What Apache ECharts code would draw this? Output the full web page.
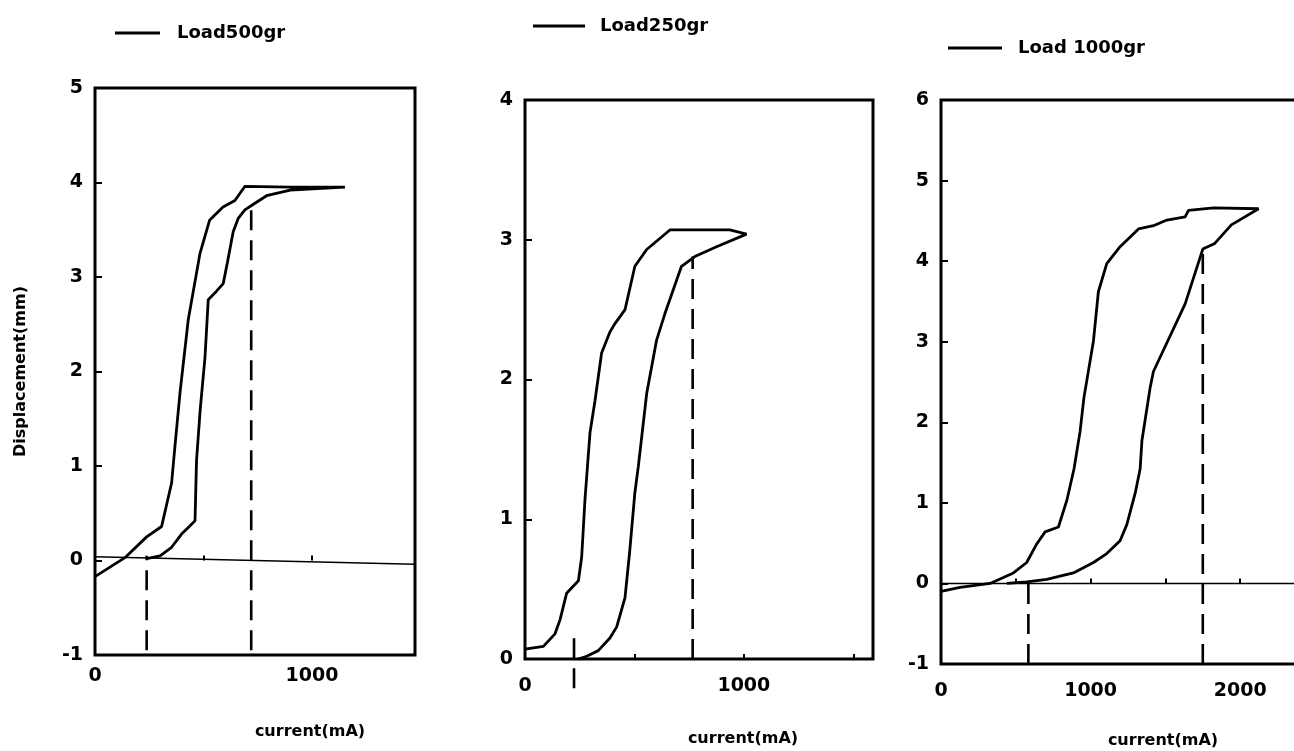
<!DOCTYPE html>
<html>
<head>
<meta charset="utf-8">
<script src="https://cdn.jsdelivr.net/npm/echarts/dist/echarts.min.js"></script>
<style>
  html, body { margin: 0; padding: 0; background: #fff; }
  #chart { width: 1294px; height: 751px; }
</style>
</head>
<body>
<div id="chart"></div>
<script>
// ---------- data (current mA, displacement mm) ----------
const legendNames = ['Load500gr', 'Load250gr', 'Load 1000gr'];

// Panel 1 : Load 500 gr
const p1Up = [[0,-0.17],[138,0.03],[238,0.25],[307,0.36],[353,0.82],[369,1.22],[392,1.78],[430,2.55],[484,3.25],[528,3.6],[590,3.74],[645,3.81],[691,3.96],[900,3.95],[1152,3.95]];
const p1Down = [[1152,3.95],[900,3.92],[791,3.86],[730,3.77],[691,3.71],[660,3.62],[637,3.48],[610,3.15],[591,2.93],[560,2.85],[522,2.76],[507,2.15],[485,1.6],[468,1.06],[461,0.42],[430,0.35],[399,0.28],[353,0.14],[300,0.05],[238,0.02]];
const p1Base = [[0,0.04],[1475,-0.04]];
const p1Dash = [[238,-0.95,0.05],[720,-0.95,3.73]];

// Panel 2 : Load 250 gr
const p2Up = [[0,0.07],[84,0.09],[137,0.18],[160,0.28],[190,0.47],[244,0.56],[259,0.73],[274,1.14],[297,1.62],[320,1.85],[350,2.19],[388,2.34],[411,2.4],[457,2.5],[502,2.81],[556,2.93],[662,3.07],[936,3.07],[1012,3.04]];
const p2Down = [[1012,3.04],[875,2.95],[776,2.88],[715,2.81],[639,2.47],[601,2.28],[556,1.9],[518,1.38],[502,1.19],[479,0.78],[457,0.44],[419,0.23],[388,0.15],[335,0.06],[282,0.02],[244,0.0]];
const p2Dash = [[224,-0.21,0.16],[766,0,2.88]];

// Panel 3 : Load 1000 gr
const p3Up = [[0,-0.1],[127,-0.05],[328,0.0],[484,0.13],[573,0.26],[640,0.49],[696,0.64],[785,0.7],[841,1.03],[889,1.42],[930,1.89],[955,2.3],[1019,3.01],[1052,3.62],[1108,3.97],[1197,4.18],[1320,4.4],[1420,4.44],[1510,4.51],[1632,4.55],[1654,4.63],[1822,4.66],[2123,4.65]];
const p3Down = [[2123,4.65],[1941,4.45],[1830,4.22],[1750,4.15],[1632,3.47],[1420,2.63],[1398,2.43],[1343,1.77],[1331,1.42],[1298,1.12],[1242,0.73],[1197,0.53],[1108,0.37],[1019,0.26],[885,0.13],[707,0.05],[573,0.02],[440,0.0]];
const p3Base = [[0,0],[2500,0]];
const p3Dash = [[584,-1,0.05],[1750,-1,4.15]];

// axis ranges / ticks
const xMax = [1475, 1590, 2500];
const yMin = [-1, 0, -1];
const yMax = [5, 4, 6];

// ---------- chart ----------
const FONT = 'DejaVu Sans';
const txt = (size) => ({ color: '#000', fontFamily: FONT, fontWeight: 'bold', fontSize: size });

const grids = [
  { left: 95,  top: 88,  width: 320, height: 567 },
  { left: 525, top: 100, width: 348, height: 559 },
  { left: 941, top: 100, width: 374, height: 564 }
].map(g => Object.assign(g, {
  show: true, borderColor: '#000', borderWidth: 3, backgroundColor: 'transparent',
  containLabel: false, outerBoundsMode: 'none'
}));

const xNameGap = [69, 72, 69];
const xNamePad = [110, 88, 70];
const xLabelMargin = [12, 18, 18];

const xAxes = [0, 1, 2].map(i => ({
  type: 'value', gridIndex: i, min: 0, max: xMax[i], interval: 500,
  axisLine: { show: false },
  axisTick: { show: true, inside: true, length: 5, lineStyle: { color: '#000', width: 2 } },
  splitLine: { show: false },
  axisLabel: Object.assign(txt(19), {
    margin: xLabelMargin[i],
    formatter: v => (v % 1000 === 0 ? String(v) : '')
  }),
  name: 'current(mA)', nameLocation: 'middle', nameGap: xNameGap[i],
  nameTextStyle: Object.assign(txt(16), { padding: [0, 0, 0, xNamePad[i]] })
}));

const yAxes = [0, 1, 2].map(i => ({
  type: 'value', gridIndex: i, min: yMin[i], max: yMax[i], interval: 1,
  axisLine: { show: false },
  axisTick: { show: true, inside: true, length: 7, lineStyle: { color: '#000', width: 2 } },
  splitLine: { show: false },
  axisLabel: Object.assign(txt(19), { margin: 12 }),
  name: i === 0 ? 'Displacement(mm)' : '',
  nameLocation: 'middle', nameGap: 66, nameRotate: 90,
  nameTextStyle: txt(16)
}));

const legendPos = [
  { left: 110, top: 19, w: 45, pad: 12 },
  { left: 528, top: 12, w: 52, pad: 10 },
  { left: 943, top: 34, w: 54, pad: 11 }
];
const legends = legendPos.map((p, i) => ({
  data: [legendNames[i]], left: p.left, top: p.top, icon: 'rect',
  itemWidth: p.w, itemHeight: 3, selectedMode: false,
  textStyle: Object.assign(txt(18), { padding: [0, 0, 0, p.pad] })
}));

const loopLine = (name, i, pts) => ({
  name, type: 'line', xAxisIndex: i, yAxisIndex: i, data: pts,
  showSymbol: false, symbol: 'none', smooth: false,
  lineStyle: { color: '#000', width: 2.8 }, itemStyle: { color: '#000' },
  silent: true, animation: false
});
const thinLine = (i, pts) => ({
  type: 'line', xAxisIndex: i, yAxisIndex: i, data: pts, symbol: 'none',
  lineStyle: { color: '#000', width: 1.6 }, silent: true, animation: false
});
const dashLine = (i, d) => ({
  type: 'line', xAxisIndex: i, yAxisIndex: i, data: [[d[0], d[1]], [d[0], d[2]]],
  symbol: 'none', clip: false,
  lineStyle: { color: '#000', width: 2.6, type: [20, 10] }, silent: true, animation: false
});

const series = [
  loopLine(legendNames[0], 0, p1Up.concat(p1Down)),
  thinLine(0, p1Base),
  ...p1Dash.map(d => dashLine(0, d)),
  loopLine(legendNames[1], 1, p2Up.concat(p2Down)),
  ...p2Dash.map(d => dashLine(1, d)),
  loopLine(legendNames[2], 2, p3Up.concat(p3Down)),
  thinLine(2, p3Base),
  ...p3Dash.map(d => dashLine(2, d))
];

const chart = echarts.init(document.getElementById('chart'), null, { renderer: 'canvas' });
chart.setOption({
  backgroundColor: '#fff',
  animation: false,
  grid: grids,
  xAxis: xAxes,
  yAxis: yAxes,
  legend: legends,
  tooltip: { show: false },
  series
});
</script>
</body>
</html>
